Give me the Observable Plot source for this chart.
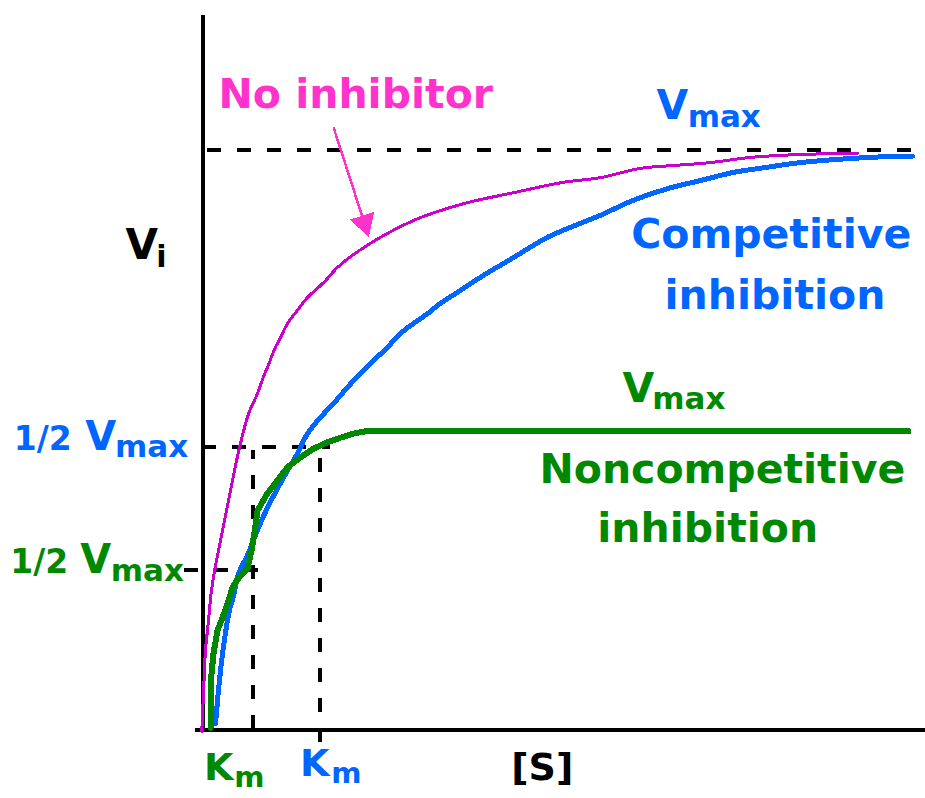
<!DOCTYPE html>
<html><head><meta charset="utf-8">
<script src="https://cdn.jsdelivr.net/npm/d3@7"></script>
<script src="https://cdn.jsdelivr.net/npm/@observablehq/plot@0.6"></script>
<style>
html,body{margin:0;padding:0;background:#fff;}
#chart svg{display:block;overflow:visible;shape-rendering:crispEdges;}
</style></head><body><div id="chart"></div>
<script>
// ---- data (substrate concentration [S] vs initial velocity Vi, Vmax = 100) ----
const noInhibitorS = [-0.1,0.14,0.41,0.83,1.24,1.8,2.49,3.6,5.12,6.4,7.6,8.4,9.2,9.9,10.79,11.76,13.14,14.52,15.91,17.01,18.67,22.27,29.18,36.1,43.02,49.93,55.05,60.58,65.15,70.26,75.8,82.71,90.59];
const noInhibitorV = [-0.3,6.2,13.6,18.8,24.0,28.3,32.6,39.6,48.7,54.6,58.0,60.8,63.2,65.5,67.7,70.1,72.4,74.6,76.2,77.5,79.8,83.2,87.9,90.8,92.7,94.5,95.3,96.9,97.4,97.9,98.8,99.3,99.5];

const competitiveS = [1.8,2.35,2.9,3.73,4.29,4.98,6.22,7.75,8.99,11.2,13.14,14.52,16.32,18.12,20.06,21.85,23.65,25.59,27.39,29.18,31.12,32.92,35.27,38.45,43.02,47.72,52.28,55.05,59.61,64.32,68.88,73.44,78.15,82.71,89.63,96.54,98.2];
const competitiveV = [1.0,8.5,14.3,20.6,23.0,26.9,30.1,34.9,38.3,43.5,47.7,51.1,53.9,56.3,59.1,61.5,63.7,66.0,68.4,70.1,71.8,73.6,75.5,78.1,81.5,85.0,87.4,88.8,91.4,93.4,94.8,96.2,97.1,97.9,98.6,99.0,99.0];

const noncompetitiveS = [1.11,1.11,1.52,2.07,2.77,3.18,3.73,4.15,4.7,5.53,6.22,6.78,7.19,7.61,8.99,10.37,11.76,13.55,15.35,17.29,19.09,20.89,22.54,97.65];
const noncompetitiveV = [0.3,7.9,13.1,17.1,19.3,20.7,22.8,24.5,25.7,26.9,27.8,30.9,34.0,37.8,40.8,43.0,45.3,47.0,48.5,49.6,50.4,51.1,51.5,51.5];

const vmax = 100;
const halfVmax = 48.7;
const halfVmaxNoncomp = 27.5;
const kmNoncomp = 7.05;
const kmComp = 16.3;

// arrow from the "No inhibitor" label to its curve
const arrowFrom = [18.12, 104.0];
const arrowHead = [22.38, 87.5];

// ---- styling ----
const MAG = "#cc00cc", MAGTXT = "#ff33cc", BLUE = "#0066ff", GREEN = "#008800";
const FONT = "DejaVu Sans";

const toRows = (xs, ys) => xs.map((s, i) => ({s, v: ys[i]}));
const dash = {stroke: "black", strokeWidth: 4, strokeDasharray: "14,16"};
function label(text, x, y, size, color) {
  return Plot.text([text], {x: () => x, y: () => y, text: d => d, fill: color, fontSize: size,
    fontWeight: "bold", fontFamily: FONT, textAnchor: "start", lineAnchor: "bottom"});
}

const chart = Plot.plot({
  width: 925, height: 798,
  marginLeft: 202, marginRight: 0, marginTop: 15, marginBottom: 69,
  x: {domain: [0, 100], axis: null},
  y: {domain: [0, 123.3], axis: null},
  style: {background: "white", overflow: "visible"},
  marks: [
    // reference lines
    Plot.ruleY([vmax], {x1: 0.7, x2: 100, ...dash}),
    Plot.ruleY([halfVmax], {x1: 0, x2: 17.7, ...dash}),
    Plot.ruleY([halfVmaxNoncomp], {x1: -2.5, x2: 7.7, ...dash}),
    Plot.ruleX([kmNoncomp], {y1: 0, y2: 48.2, ...dash}),
    Plot.ruleX([kmComp], {y1: -2.2, y2: 48.7, ...dash}),
    // axes
    Plot.ruleX([0], {y1: -0.3, y2: 123.3, stroke: "black", strokeWidth: 4}),
    Plot.ruleY([0], {x1: -1, x2: 100, stroke: "black", strokeWidth: 4}),
    // curves
    Plot.line(toRows(competitiveS, competitiveV), {x: "s", y: "v", stroke: BLUE, strokeWidth: 5, curve: "catmull-rom"}),
    Plot.line(toRows(noncompetitiveS, noncompetitiveV), {x: "s", y: "v", stroke: GREEN, strokeWidth: 6}),
    Plot.line(toRows(noInhibitorS, noInhibitorV), {x: "s", y: "v", stroke: MAG, strokeWidth: 3, curve: "catmull-rom"}),
    // arrow
    Plot.link([0], {x1: () => arrowFrom[0], y1: () => arrowFrom[1], x2: () => arrowHead[0], y2: () => arrowHead[1], stroke: MAGTXT, strokeWidth: 2.5}),
    Plot.dot([0], {x: () => arrowHead[0], y: () => arrowHead[1], symbol: "triangle", r: 9.5, fill: MAGTXT, rotate: 162.35}),
    // labels
    label("No inhibitor", 2.2, 107.3, 41, MAGTXT),
    label("V", 62.8, 105.5, 41, BLUE),
    label("max", 67.1, 104.0, 31, BLUE),
    label("Competitive", 59.3, 83.1, 41, BLUE),
    label("inhibition", 63.9, 72.7, 41, BLUE),
    label("V", 58.1, 56.6, 41, GREEN),
    label("max", 62.2, 55.4, 31, GREEN),
    label("Noncompetitive", 46.6, 42.5, 41, GREEN),
    label("inhibition", 54.6, 32.3, 41, GREEN),
    label("1/2", -26.1, 48.2, 33, BLUE),
    label("V", -16.2, 48.2, 40, BLUE),
    label("max", -12.1, 47.0, 31, BLUE),
    label("1/2", -26.6, 27.1, 33, GREEN),
    label("V", -16.9, 27.1, 40, GREEN),
    label("max", -12.7, 25.7, 31, GREEN),
    label("V", -10.65, 81.2, 42, "black"),
    label("i", -6.4, 79.8, 30, "black"),
    label("K", 0.22, -8.8, 38, GREEN),
    label("m", 4.4, -10.0, 29, GREEN),
    label("K", 13.5, -8.1, 38, BLUE),
    label("m", 17.8, -9.3, 29, BLUE),
    label("[S]", 42.7, -8.8, 38, "black")
  ]
});
document.getElementById("chart").appendChild(chart);
</script></body></html>
